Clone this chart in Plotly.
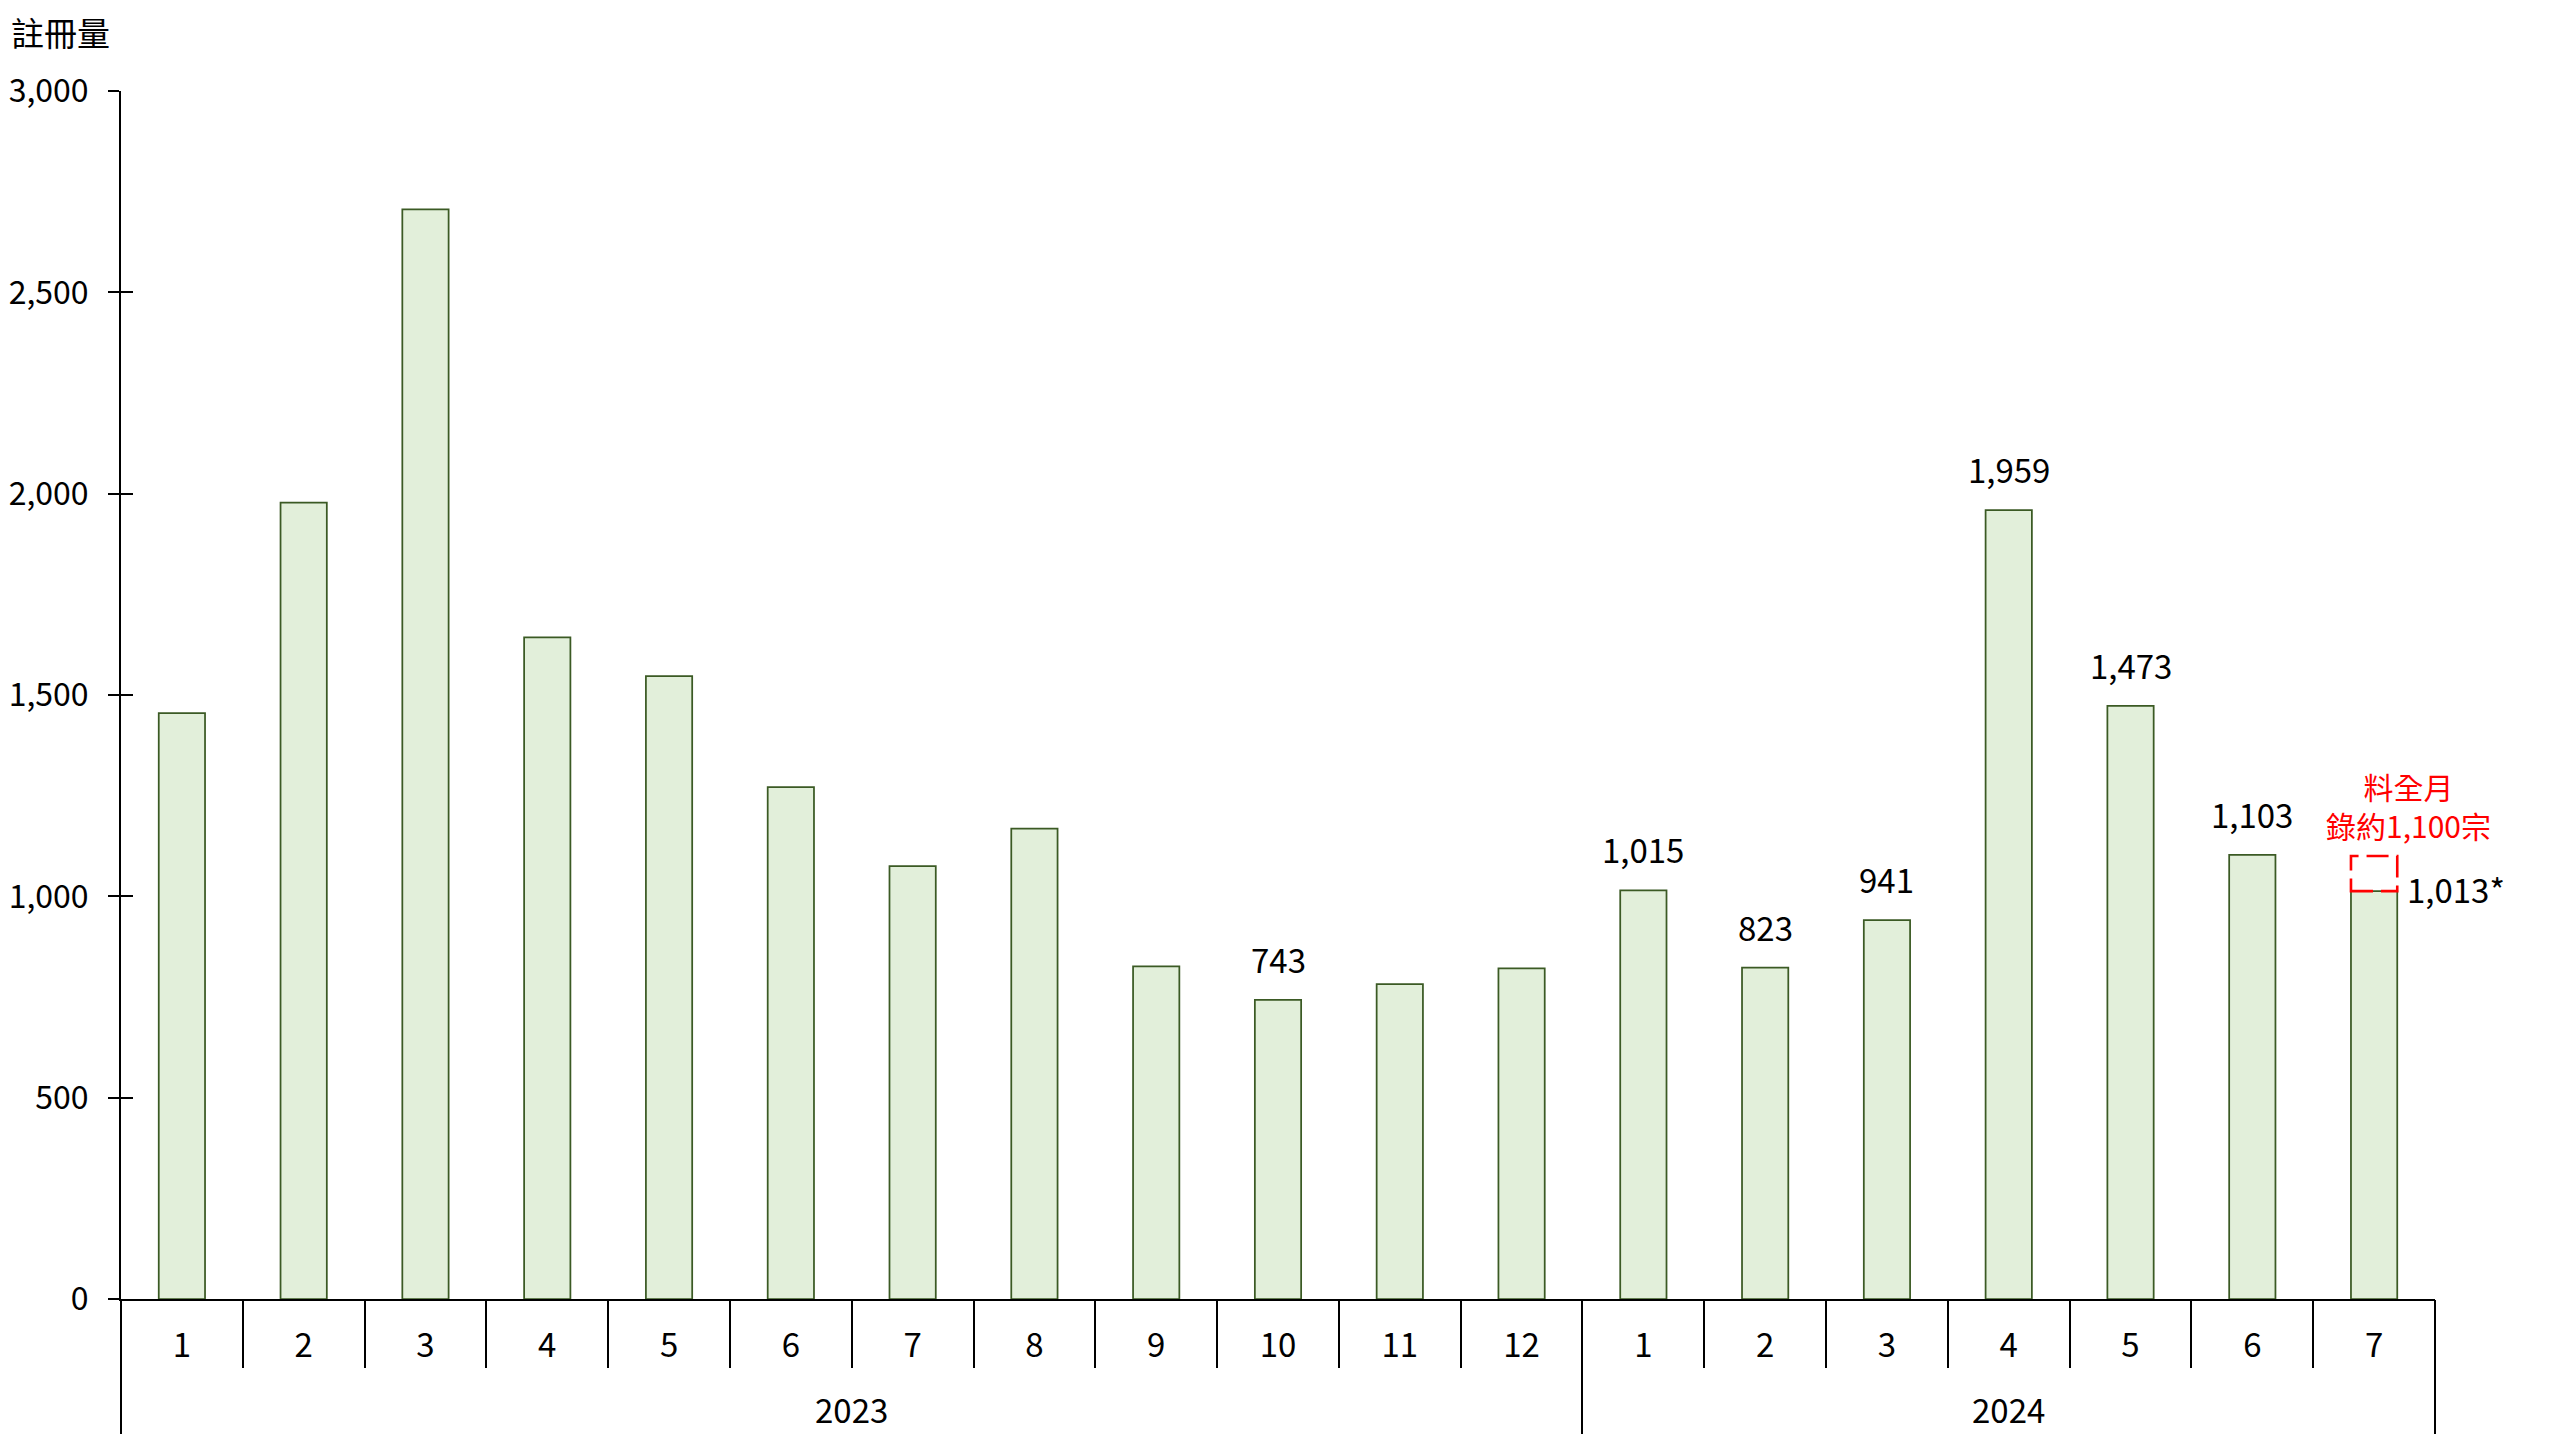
import plotly.graph_objects as go

# ---------------- data ----------------
years = ["2023"] * 12 + ["2024"] * 7
months = ["1", "2", "3", "4", "5", "6", "7", "8", "9", "10", "11", "12",
          "1", "2", "3", "4", "5", "6", "7"]
values = [1455, 1978, 2706, 1643, 1547, 1271, 1075, 1168, 826, 743, 782, 821,
          1015, 823, 941, 1959, 1473, 1103, 1013]
value_labels = ["", "", "", "", "", "", "", "", "", "743", "", "",
                "1,015", "823", "941", "1,959", "1,473", "1,103", "1,013*"]
full_month_estimate = 1100
estimate_note = "料全月<br>錄約1,100宗"
y_title = "註冊量"
y_tickvals = [0, 500, 1000, 1500, 2000, 2500, 3000]
y_ticktext = ["0", "500", "1,000", "1,500", "2,000", "2,500", "3,000"]

# ---------------- styling ----------------
FONT = "Noto Sans CJK TC"
FS = 33
BAR_W = 0.38
BAR_FILL = "#E2EFDA"
BAR_LINE = "#3B5A24"

n = len(values)
idx = list(range(n))
bounds = [i - 0.5 for i in range(n + 1)]

# year groups
year_names = []
for y in years:
    if y not in year_names:
        year_names.append(y)
year_centers = []
year_dividers = [-0.5]
for yn in year_names:
    ii = [i for i, y in enumerate(years) if y == yn]
    year_centers.append(sum(ii) / len(ii))
    year_dividers.append(ii[-1] + 0.5)

fig = go.Figure()
fig.add_trace(go.Bar(
    x=idx, y=values, width=BAR_W,
    marker=dict(color=BAR_FILL, line=dict(color=BAR_LINE, width=1.75)),
    hoverinfo="skip", showlegend=False,
))
# helper traces so the overlay axes get drawn
fig.add_trace(go.Scatter(x=[], y=[], xaxis="x2", yaxis="y", showlegend=False, hoverinfo="skip"))
fig.add_trace(go.Scatter(x=[], y=[], xaxis="x", yaxis="y2", showlegend=False, hoverinfo="skip"))

annotations = []
last = n - 1
for i, (v, lab) in enumerate(zip(values, value_labels)):
    if not lab:
        continue
    if i == last:
        annotations.append(dict(x=i, y=v, xref="x", yref="y", text=lab, showarrow=False,
                                xanchor="left", yanchor="middle", xshift=31, yshift=2,
                                font=dict(family=FONT, size=FS, color="black")))
    else:
        annotations.append(dict(x=i, y=v, xref="x", yref="y", text=lab, showarrow=False,
                                xanchor="center", yanchor="bottom", yshift=15,
                                font=dict(family=FONT, size=FS, color="black")))

# estimate note
annotations.append(dict(x=last, y=full_month_estimate, xref="x", yref="y", text=estimate_note,
                        showarrow=False, xanchor="center", yanchor="bottom",
                        xshift=34, yshift=7, align="center",
                        font=dict(family=FONT, size=30, color="#FF0000")))

# year labels
for yn, xc in zip(year_names, year_centers):
    annotations.append(dict(x=xc, y=0, xref="x", yref="paper", text=yn, showarrow=False,
                            xanchor="center", yanchor="middle", yshift=-110,
                            font=dict(family=FONT, size=FS, color="black")))

# y axis title
annotations.append(dict(x=0, y=1, xref="paper", yref="paper", text=y_title, showarrow=False,
                        xanchor="left", yanchor="middle", xshift=-112, yshift=59,
                        font=dict(family=FONT, size=FS, color="black")))

shapes = [dict(type="rect", xref="x", yref="y",
               x0=last - BAR_W / 2, x1=last + BAR_W / 2,
               y0=values[last], y1=full_month_estimate,
               line=dict(color="#FF0000", width=2.6, dash="22px,8px"),
               fillcolor="rgba(0,0,0,0)")]

fig.update_layout(
    template="none",
    width=2552, height=1432,
    margin=dict(l=113, r=125, t=83, b=141, pad=0, autoexpand=False),
    paper_bgcolor="white", plot_bgcolor="white",
    font=dict(family=FONT, size=FS, color="black"),
    showlegend=False,
    annotations=annotations,
    shapes=shapes,
    xaxis=dict(
        automargin=False,
        range=[-0.5, n - 0.5], tickmode="array", tickvals=idx, ticktext=months,
        ticks="", showgrid=False, zeroline=False,
        showline=True, linecolor="black", linewidth=2,
        tickfont=dict(family=FONT, size=FS, color="black"),
        ticklabelstandoff=16,
        minor=dict(tickmode="array", tickvals=bounds, ticks="outside",
                   ticklen=67, tickwidth=2, tickcolor="black", showgrid=False),
    ),
    xaxis2=dict(
        automargin=False,
        overlaying="x", anchor="y", side="bottom",
        range=[-0.5, n - 0.5], tickmode="array", tickvals=year_dividers,
        ticks="outside", ticklen=134, tickwidth=2, tickcolor="black",
        showticklabels=False, showgrid=False, zeroline=False, showline=False,
    ),
    yaxis=dict(
        automargin=False,
        range=[0, 3000], tickmode="array", tickvals=y_tickvals, ticktext=y_ticktext,
        ticks="outside", ticklen=11, tickwidth=2, tickcolor="black",
        showline=True, linecolor="black", linewidth=2,
        showgrid=False, zeroline=False,
        tickfont=dict(family=FONT, size=32, color="black"),
        ticklabelstandoff=13,
    ),
    yaxis2=dict(
        automargin=False,
        overlaying="y", anchor="x", side="left",
        range=[0, 3000], tickmode="array", tickvals=y_tickvals,
        ticks="inside", ticklen=12, tickwidth=2, tickcolor="black",
        showticklabels=False, showgrid=False, zeroline=False, showline=False,
    ),
)

fig.write_html("out.html")
